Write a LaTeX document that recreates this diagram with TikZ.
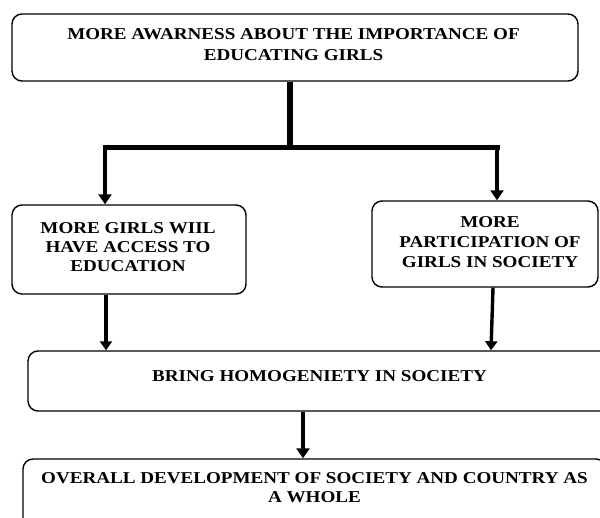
\documentclass[tikz,border=0pt]{standalone}
\usepackage{fontspec}
\newfontfamily\tnr{Liberation Serif}[FakeStretch=1.15]
\usetikzlibrary{arrows.meta,calc}
\begin{document}
\begin{tikzpicture}[x=1pt,y=-1pt,
  box/.style={draw=black, line width=1.4pt, rounded corners=10pt, inner sep=0pt},
  txt/.style={align=center, inner sep=0pt, anchor=north, text=black,
              font=\tnr\bfseries\fontsize{16.6}{#1}\selectfont},
  txt/.default=20,
  stem/.style={line width=6pt},
  bar/.style={line width=5pt, line cap=rect},
  arr/.style={line width=4pt, -{Triangle[width=13pt,length=10pt]}},
  arrthin/.style={line width=3.4pt, -{Triangle[width=12pt,length=9pt]}}
]
\useasboundingbox (0,0) rectangle (600,518);
\clip (0,0) rectangle (600,518);
\fill[white] (0,0) rectangle (600,518);

% boxes
\node[box, minimum width=566pt, minimum height=67pt] (top) at (295,47.5) {};
\node[box, minimum width=234pt, minimum height=89pt] (left) at (129,249.5) {};
\node[box, minimum width=226pt, minimum height=86pt] (right) at (485,244) {};
\node[box, minimum width=583pt, minimum height=60pt] (mid) at (319.5,381) {};
\node[box, minimum width=583pt, minimum height=80pt] (bot) at (314.5,499) {};

% texts
\node[txt=21] (toptxt) at (293.5,28) {MORE AWARNESS ABOUT THE IMPORTANCE OF\\EDUCATING GIRLS};
\node[txt=19] (lefttxt) at (128,222) {MORE GIRLS WIIL\\HAVE ACCESS TO\\EDUCATION};
\node[txt=20] (righttxt) at (490,216) {MORE\\PARTICIPATION OF\\GIRLS IN SOCIETY};
\node[txt] (midtxt) at (319.5,370) {BRING HOMOGENIETY IN SOCIETY};
\node[txt=19] (bottxt) at (314.5,472) {OVERALL DEVELOPMENT OF SOCIETY AND COUNTRY AS\\A WHOLE};

% connectors
\coordinate (jc) at (290,148);
\coordinate (jl) at (105,148);
\coordinate (jr) at (497,148);
\draw[stem] ([xshift=-5pt]top.south) -- (jc);
\draw[bar] (jl) -- (jr);
\draw[arr] (jl) -- (jl |- left.north);
\draw[arr] (jr) -- (jr |- right.north);
\draw[arrthin] ([xshift=-23pt]left.south) -- ([xshift=-23pt]left.south |- mid.north);
\draw[arrthin] ([xshift=8pt]right.south) -- ([xshift=6pt]right.south |- mid.north);
\draw[arr] ([xshift=-16.5pt]mid.south) -- ([xshift=-16.5pt]mid.south |- bot.north);
\end{tikzpicture}
\end{document}
